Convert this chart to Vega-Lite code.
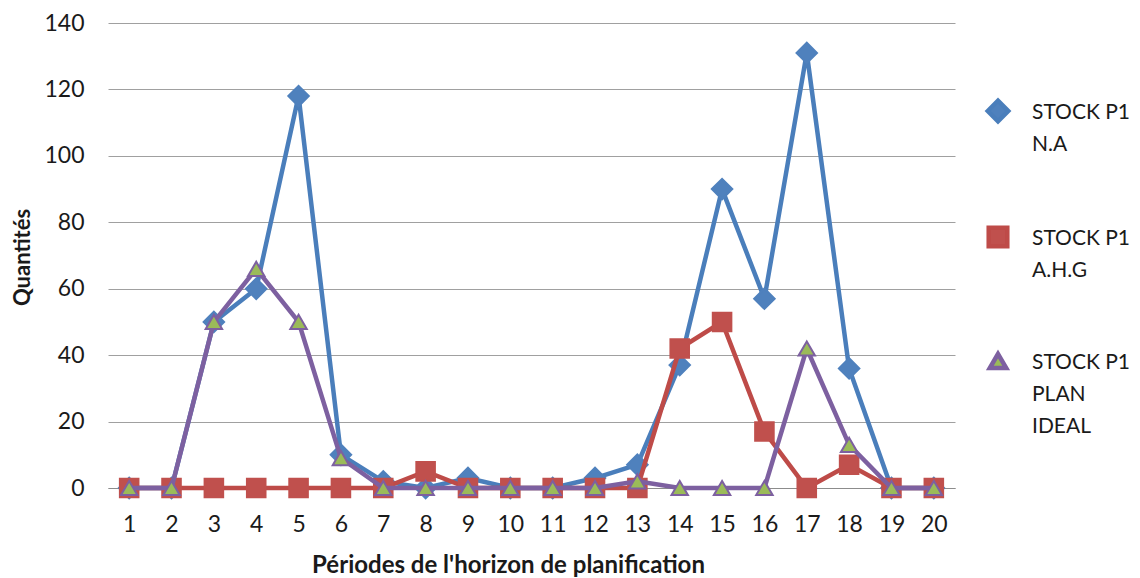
{
  "$schema": "https://vega.github.io/schema/vega-lite/v6.json",
  "width": 847,
  "height": 465,
  "autosize": "none",
  "padding": {"left": 108, "top": 23, "right": 185, "bottom": 90},
  "background": "white",
  "config": {"view": {"stroke": null}, "font": "Lato"},
  "data": {"values": [
    {"period": 1, "series": "STOCK P1 N.A", "value": 0},
    {"period": 2, "series": "STOCK P1 N.A", "value": 0},
    {"period": 3, "series": "STOCK P1 N.A", "value": 50},
    {"period": 4, "series": "STOCK P1 N.A", "value": 60},
    {"period": 5, "series": "STOCK P1 N.A", "value": 118},
    {"period": 6, "series": "STOCK P1 N.A", "value": 10},
    {"period": 7, "series": "STOCK P1 N.A", "value": 2},
    {"period": 8, "series": "STOCK P1 N.A", "value": 0},
    {"period": 9, "series": "STOCK P1 N.A", "value": 3},
    {"period": 10, "series": "STOCK P1 N.A", "value": 0},
    {"period": 11, "series": "STOCK P1 N.A", "value": 0},
    {"period": 12, "series": "STOCK P1 N.A", "value": 3},
    {"period": 13, "series": "STOCK P1 N.A", "value": 7},
    {"period": 14, "series": "STOCK P1 N.A", "value": 37},
    {"period": 15, "series": "STOCK P1 N.A", "value": 90},
    {"period": 16, "series": "STOCK P1 N.A", "value": 57},
    {"period": 17, "series": "STOCK P1 N.A", "value": 131},
    {"period": 18, "series": "STOCK P1 N.A", "value": 36},
    {"period": 19, "series": "STOCK P1 N.A", "value": 0},
    {"period": 20, "series": "STOCK P1 N.A", "value": 0},
    {"period": 1, "series": "STOCK P1 A.H.G", "value": 0},
    {"period": 2, "series": "STOCK P1 A.H.G", "value": 0},
    {"period": 3, "series": "STOCK P1 A.H.G", "value": 0},
    {"period": 4, "series": "STOCK P1 A.H.G", "value": 0},
    {"period": 5, "series": "STOCK P1 A.H.G", "value": 0},
    {"period": 6, "series": "STOCK P1 A.H.G", "value": 0},
    {"period": 7, "series": "STOCK P1 A.H.G", "value": 0},
    {"period": 8, "series": "STOCK P1 A.H.G", "value": 5},
    {"period": 9, "series": "STOCK P1 A.H.G", "value": 0},
    {"period": 10, "series": "STOCK P1 A.H.G", "value": 0},
    {"period": 11, "series": "STOCK P1 A.H.G", "value": 0},
    {"period": 12, "series": "STOCK P1 A.H.G", "value": 0},
    {"period": 13, "series": "STOCK P1 A.H.G", "value": 0},
    {"period": 14, "series": "STOCK P1 A.H.G", "value": 42},
    {"period": 15, "series": "STOCK P1 A.H.G", "value": 50},
    {"period": 16, "series": "STOCK P1 A.H.G", "value": 17},
    {"period": 17, "series": "STOCK P1 A.H.G", "value": 0},
    {"period": 18, "series": "STOCK P1 A.H.G", "value": 7},
    {"period": 19, "series": "STOCK P1 A.H.G", "value": 0},
    {"period": 20, "series": "STOCK P1 A.H.G", "value": 0},
    {"period": 1, "series": "STOCK P1 PLAN IDEAL", "value": 0},
    {"period": 2, "series": "STOCK P1 PLAN IDEAL", "value": 0},
    {"period": 3, "series": "STOCK P1 PLAN IDEAL", "value": 50},
    {"period": 4, "series": "STOCK P1 PLAN IDEAL", "value": 66},
    {"period": 5, "series": "STOCK P1 PLAN IDEAL", "value": 50},
    {"period": 6, "series": "STOCK P1 PLAN IDEAL", "value": 9},
    {"period": 7, "series": "STOCK P1 PLAN IDEAL", "value": 0},
    {"period": 8, "series": "STOCK P1 PLAN IDEAL", "value": 0},
    {"period": 9, "series": "STOCK P1 PLAN IDEAL", "value": 0},
    {"period": 10, "series": "STOCK P1 PLAN IDEAL", "value": 0},
    {"period": 11, "series": "STOCK P1 PLAN IDEAL", "value": 0},
    {"period": 12, "series": "STOCK P1 PLAN IDEAL", "value": 0},
    {"period": 13, "series": "STOCK P1 PLAN IDEAL", "value": 2},
    {"period": 14, "series": "STOCK P1 PLAN IDEAL", "value": 0},
    {"period": 15, "series": "STOCK P1 PLAN IDEAL", "value": 0},
    {"period": 16, "series": "STOCK P1 PLAN IDEAL", "value": 0},
    {"period": 17, "series": "STOCK P1 PLAN IDEAL", "value": 42},
    {"period": 18, "series": "STOCK P1 PLAN IDEAL", "value": 13},
    {"period": 19, "series": "STOCK P1 PLAN IDEAL", "value": 0},
    {"period": 20, "series": "STOCK P1 PLAN IDEAL", "value": 0}
  ]},
  "encoding": {
    "x": {
      "field": "period", "type": "ordinal",
      "scale": {"type": "point", "padding": 0.5},
      "axis": {
        "title": "Périodes de l'horizon de planification",
        "labelAngle": 0, "domain": true, "domainColor": "#8c8c8c", "domainWidth": 1,
        "ticks": false, "grid": false,
        "labelFont": "Lato", "labelFontSize": 23, "labelColor": "#1a1a1a", "labelPadding": 25,
        "titleFont": "Lato", "titleFontSize": 24, "titleFontWeight": "bold", "titleColor": "#1a1a1a",
        "titleX": 400, "titleY": 77, "titleBaseline": "middle"
      }
    },
    "y": {
      "field": "value", "type": "quantitative",
      "scale": {"domain": [0, 140], "nice": false},
      "axis": {
        "title": "Quantités",
        "values": [0, 20, 40, 60, 80, 100, 120, 140],
        "domain": false, "ticks": false, "grid": true, "gridColor": "#a0a0a0", "gridWidth": 1,
        "labelFont": "Lato", "labelFontSize": 23, "labelColor": "#1a1a1a", "labelPadding": 24,
        "titleFont": "Lato", "titleFontSize": 22, "titleFontWeight": "bold", "titleColor": "#1a1a1a",
        "titleX": -86, "titleY": 234, "titleBaseline": "middle"
      }
    }
  },
  "layer": [
    {
      "transform": [{"filter": "datum.series == 'STOCK P1 N.A'"}],
      "mark": {"type": "line", "strokeWidth": 4.5},
      "encoding": {
        "color": {
          "field": "series", "type": "nominal",
          "scale": {"domain": ["STOCK P1 N.A", "STOCK P1 A.H.G", "STOCK P1 PLAN IDEAL"], "range": ["#4a7ebb", "#be4b48", "#7d60a0"]},
          "legend": {
            "orient": "none", "legendX": 862, "legendY": 78, "title": null, "padding": 0,
            "rowPadding": 63, "symbolType": "stroke", "symbolSize": 3025, "symbolStrokeWidth": 4.5,
            "labelFont": "Lato", "labelFontSize": 21, "labelColor": "#1a1a1a", "labelBaseline": "top",
            "labelExpr": "datum.label == 'STOCK P1 PLAN IDEAL' ? ['STOCK P1', 'PLAN', 'IDEAL'] : ['STOCK P1', slice(datum.label, 9)]",
            "encode": {
              "symbols": {"update": {"x": {"value": 28}, "y": {"value": 10}}},
              "labels": {"update": {"x": {"value": 62}, "y": {"value": 10}, "dy": {"value": -9}, "lineHeight": {"value": 32}}}
            }
          }
        }
      }
    },
    {
      "transform": [{"filter": "datum.series == 'STOCK P1 N.A'"}],
      "mark": {"type": "point", "filled": true, "opacity": 1, "strokeWidth": 2},
      "encoding": {
        "shape": {"field": "series", "type": "nominal", "scale": {"domain": ["STOCK P1 N.A", "STOCK P1 A.H.G", "STOCK P1 PLAN IDEAL"], "range": ["diamond", "square", "triangle-up"]}, "legend": null},
        "fill": {"field": "series", "type": "nominal", "scale": {"domain": ["STOCK P1 N.A", "STOCK P1 A.H.G", "STOCK P1 PLAN IDEAL"], "range": ["#4f81bd", "#c0504d", "#9bbb59"]}, "legend": null},
        "stroke": {"field": "series", "type": "nominal", "scale": {"domain": ["STOCK P1 N.A", "STOCK P1 A.H.G", "STOCK P1 PLAN IDEAL"], "range": ["#4f81bd", "#c0504d", "#7d60a0"]}, "legend": null},
        "size": {"field": "series", "type": "nominal", "scale": {"domain": ["STOCK P1 N.A", "STOCK P1 A.H.G", "STOCK P1 PLAN IDEAL"], "range": [420, 270, 500]}, "legend": null}
      }
    },
    {
      "transform": [{"filter": "datum.series == 'STOCK P1 A.H.G'"}],
      "mark": {"type": "line", "strokeWidth": 4.5},
      "encoding": {
        "color": {
          "field": "series", "type": "nominal",
          "scale": {"domain": ["STOCK P1 N.A", "STOCK P1 A.H.G", "STOCK P1 PLAN IDEAL"], "range": ["#4a7ebb", "#be4b48", "#7d60a0"]},
          "legend": null
        }
      }
    },
    {
      "transform": [{"filter": "datum.series == 'STOCK P1 A.H.G'"}],
      "mark": {"type": "point", "filled": true, "opacity": 1, "strokeWidth": 2},
      "encoding": {
        "shape": {"field": "series", "type": "nominal", "scale": {"domain": ["STOCK P1 N.A", "STOCK P1 A.H.G", "STOCK P1 PLAN IDEAL"], "range": ["diamond", "square", "triangle-up"]}, "legend": null},
        "fill": {"field": "series", "type": "nominal", "scale": {"domain": ["STOCK P1 N.A", "STOCK P1 A.H.G", "STOCK P1 PLAN IDEAL"], "range": ["#4f81bd", "#c0504d", "#9bbb59"]}, "legend": null},
        "stroke": {"field": "series", "type": "nominal", "scale": {"domain": ["STOCK P1 N.A", "STOCK P1 A.H.G", "STOCK P1 PLAN IDEAL"], "range": ["#4f81bd", "#c0504d", "#7d60a0"]}, "legend": null},
        "size": {"field": "series", "type": "nominal", "scale": {"domain": ["STOCK P1 N.A", "STOCK P1 A.H.G", "STOCK P1 PLAN IDEAL"], "range": [420, 270, 500]}, "legend": null}
      }
    },
    {
      "transform": [{"filter": "datum.series == 'STOCK P1 PLAN IDEAL'"}],
      "mark": {"type": "line", "strokeWidth": 4.5},
      "encoding": {
        "color": {
          "field": "series", "type": "nominal",
          "scale": {"domain": ["STOCK P1 N.A", "STOCK P1 A.H.G", "STOCK P1 PLAN IDEAL"], "range": ["#4a7ebb", "#be4b48", "#7d60a0"]},
          "legend": null
        }
      }
    },
    {
      "transform": [{"filter": "datum.series == 'STOCK P1 PLAN IDEAL'"}],
      "mark": {"type": "point", "filled": true, "opacity": 1, "strokeWidth": 2},
      "encoding": {
        "shape": {"field": "series", "type": "nominal", "scale": {"domain": ["STOCK P1 N.A", "STOCK P1 A.H.G", "STOCK P1 PLAN IDEAL"], "range": ["diamond", "square", "triangle-up"]}, "legend": null},
        "fill": {"field": "series", "type": "nominal", "scale": {"domain": ["STOCK P1 N.A", "STOCK P1 A.H.G", "STOCK P1 PLAN IDEAL"], "range": ["#4f81bd", "#c0504d", "#9bbb59"]}, "legend": null},
        "stroke": {"field": "series", "type": "nominal", "scale": {"domain": ["STOCK P1 N.A", "STOCK P1 A.H.G", "STOCK P1 PLAN IDEAL"], "range": ["#4f81bd", "#c0504d", "#7d60a0"]}, "legend": null},
        "size": {"field": "series", "type": "nominal", "scale": {"domain": ["STOCK P1 N.A", "STOCK P1 A.H.G", "STOCK P1 PLAN IDEAL"], "range": [420, 270, 500]}, "legend": null}
      }
    }
  ]
}
